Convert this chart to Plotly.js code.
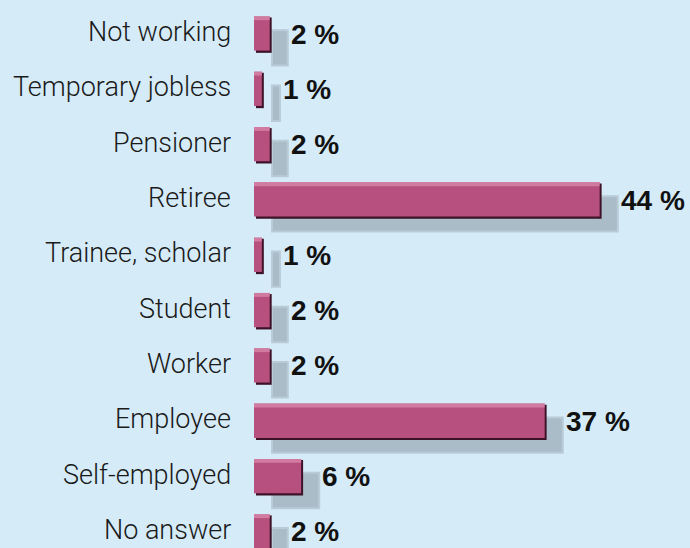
<!DOCTYPE html>
<html><head><meta charset="utf-8">
<script src="https://cdn.plot.ly/plotly-3.0.1.min.js"></script>
<style>html,body{margin:0;padding:0;background:#d5ebf8;}#chart{width:690px;height:548px;}</style>
</head><body><div id="chart"></div>
<script>
const categories = ["Not working","Temporary jobless","Pensioner","Retiree","Trainee, scholar","Student","Worker","Employee","Self-employed","No answer"];
const values = [2,1,2,44,1,2,2,37,6,2];
const valueLabels = values.map(v => v + " %");

const common = {type:'bar', orientation:'h', y:categories, x:values, hoverinfo:'skip'};
const traces = [
  Object.assign({}, common, {base:2.3, offset:-0.07, width:0.64, marker:{color:'#a9bcc7', line:{color:'#b8cbd6', width:2}}}),
  Object.assign({}, common, {base:0.25, offset:-0.30, width:0.64, marker:{color:'#3d1228', line:{width:0}}}),
  Object.assign({}, common, {base:0, offset:-0.32, width:0.62, marker:{color:'#b7507e', line:{width:0}}}),
  Object.assign({}, common, {base:0, offset:-0.32, width:0.07, marker:{color:'#d98aae', opacity:0.75, line:{width:0}}})
];

const annotations = [];
categories.forEach((c,i)=>{
  annotations.push({xref:'paper', yref:'y', x:-0.049, y:c, xanchor:'right', yanchor:'middle', yshift:2, showarrow:false, text:c, font:{family:'Roboto, Liberation Sans, Arial, sans-serif', weight:300, size:27, color:'#1a1a1a'}});
  annotations.push({xref:'x', yref:'y', x:values[i], y:c, xanchor:'left', yanchor:'middle', xshift:19, showarrow:false, text:'<b>'+valueLabels[i]+'</b>', font:{family:'Liberation Sans, Arial, sans-serif', size:28, color:'#111'}});
});

const layout = {
  width:690, height:548,
  paper_bgcolor:'#d5ebf8', plot_bgcolor:'#d5ebf8',
  margin:{l:254, r:0, t:0, b:0},
  barmode:'overlay', showlegend:false,
  xaxis:{range:[0,55.5], visible:false, fixedrange:true},
  yaxis:{type:'category', categoryorder:'array', categoryarray:categories, range:[9.29,-0.615], visible:false, fixedrange:true},
  annotations:annotations
};
Plotly.newPlot('chart', traces, layout, {staticPlot:true, displayModeBar:false});
</script></body></html>
